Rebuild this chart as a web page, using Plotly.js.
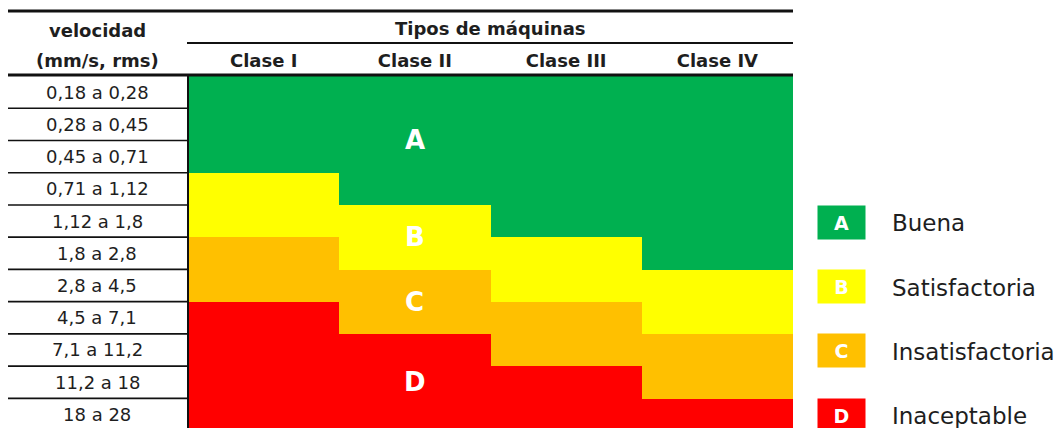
<!DOCTYPE html>
<html>
<head>
<meta charset="utf-8">
<script src="https://cdn.plot.ly/plotly-3.0.1.min.js"></script>
<style>html,body{margin:0;padding:0;background:#fff;}#chart{width:1062px;height:428px;}</style>
</head>
<body>
<div id="chart"></div>
<script>
// ---- data ----
const rangos = ["0,18 a 0,28","0,28 a 0,45","0,45 a 0,71","0,71 a 1,12","1,12 a 1,8","1,8 a 2,8","2,8 a 4,5","4,5 a 7,1","7,1 a 11,2","11,2 a 18","18 a 28"];
const clases = ["Clase I","Clase II","Clase III","Clase IV"];
const zonaClaseI   = ["A","A","A","B","B","C","C","D","D","D","D"];
const zonaClaseII  = ["A","A","A","A","B","B","C","C","D","D","D"];
const zonaClaseIII = ["A","A","A","A","A","B","B","C","C","D","D"];
const zonaClaseIV  = ["A","A","A","A","A","A","B","B","C","C","D"];
const zonas = ["A","B","C","D"];
const zonaNombres = ["Buena","Satisfactoria","Insatisfactoria","Inaceptable"];
const leyendaFilas = ["1,12 a 1,8","2,8 a 4,5","7,1 a 11,2","18 a 28"];
const headerIzq = ["velocidad","(mm/s, rms)"];
const headerTipos = "Tipos de máquinas";

// ---- styles ----
const colores = ["#00B050","#FFFF00","#FFC000","#FF0000"];
const FONT = "DejaVu Sans";
const TXT = "#1e1e1e";

const columnas = [zonaClaseI, zonaClaseII, zonaClaseIII, zonaClaseIV];
const z = rangos.map((r, i) => columnas.map(col => zonas.indexOf(col[i])));

const cs = [];
for (let k = 0; k < 4; k++) {
  const a = k === 0 ? 0 : (k - 0.5) / 3;
  const b = k === 3 ? 1 : (k + 0.5) / 3;
  cs.push([a, colores[k]]); cs.push([b, colores[k]]);
}

const trace = {
  type: "heatmap", x: clases, y: rangos, z: z,
  zmin: 0, zmax: 3, colorscale: cs, showscale: false, hoverinfo: "skip"
};

const L = 188, R = 793, T = 76, H = 352, W = R - L;
const px = x => (x - L) / W;
const py = y => 1 + (T - y) / H;

const ann = [];
// row labels
rangos.forEach(r => ann.push({xref: "paper", yref: "y", x: px(97), y: r, text: r, showarrow: false,
  xanchor: "center", yanchor: "middle", font: {family: FONT, size: 18, color: TXT}}));
// headers
ann.push({xref: "paper", yref: "paper", x: px(97), y: py(30), text: "<b>" + headerIzq[0] + "</b>", showarrow: false,
  xanchor: "center", yanchor: "middle", font: {family: FONT, size: 18, color: TXT}});
ann.push({xref: "paper", yref: "paper", x: px(97), y: py(60), text: "<b>" + headerIzq[1] + "</b>", showarrow: false,
  xanchor: "center", yanchor: "middle", font: {family: FONT, size: 18, color: TXT}});
ann.push({xref: "paper", yref: "paper", x: 0.5, y: py(29), text: "<b>" + headerTipos + "</b>", showarrow: false,
  xanchor: "center", yanchor: "middle", font: {family: FONT, size: 18, color: TXT}});
// zone letters centered in Clase II regions
zonas.forEach(zn => {
  const idx = zonaClaseII.map((v, i) => v === zn ? i : -1).filter(i => i >= 0);
  const mid = (idx[0] + idx[idx.length - 1]) / 2;
  ann.push({xref: "x", yref: "y", x: clases[1], y: mid, text: "<b>" + zn + "</b>", showarrow: false,
    xanchor: "center", yanchor: "middle", font: {family: FONT, size: 26, color: "#ffffff"}});
});
// legend
zonas.forEach((zn, k) => {
  ann.push({xref: "paper", yref: "y", x: px(841.5), y: leyendaFilas[k], yshift: -1, text: "<b>" + zn + "</b>", showarrow: false,
    xanchor: "center", yanchor: "middle", width: 47, height: 33, bgcolor: colores[k], borderpad: 0,
    font: {family: FONT, size: 19, color: "#ffffff"}});
  ann.push({xref: "paper", yref: "y", x: px(890), y: leyendaFilas[k], yshift: -2, text: zonaNombres[k], showarrow: false,
    xanchor: "left", yanchor: "middle", font: {family: FONT, size: 23, color: TXT}});
});

const shapes = [];
const ln = (x0, y0, x1, y1, w, xref, yref) => shapes.push({type: "line", xref: xref || "paper", yref: yref || "paper",
  x0, y0, x1, y1, line: {color: "#111111", width: w}});
ln(px(8), py(11), 1, py(11), 3);
ln(px(187), py(43), 1, py(43), 2);
ln(px(8), py(75), 1, py(75), 3);
ln(0, 0, 0, py(75), 2);
for (let i = 0; i < rangos.length - 1; i++) ln(px(8), i + 0.5, 0, i + 0.5, 1.6, "paper", "y");

const layout = {
  width: 1062, height: 428,
  margin: {l: L, r: 1062 - R, t: T, b: 0, pad: 0},
  paper_bgcolor: "#ffffff", plot_bgcolor: "#ffffff",
  font: {family: FONT, color: TXT},
  xaxis: {type: "category", side: "top", showgrid: false, zeroline: false, showline: false, ticks: "",
    ticklabelstandoff: 4,
    tickfont: {family: FONT, size: 18, color: TXT}, tickprefix: "<b>", ticksuffix: "</b>", fixedrange: true},
  yaxis: {type: "category", range: [10.42, -0.5], autorange: false, showgrid: false, zeroline: false,
    showline: false, showticklabels: false, ticks: "", fixedrange: true},
  annotations: ann, shapes: shapes, showlegend: false
};

Plotly.newPlot("chart", [trace], layout, {displayModeBar: false, staticPlot: true});
</script>
</body>
</html>
